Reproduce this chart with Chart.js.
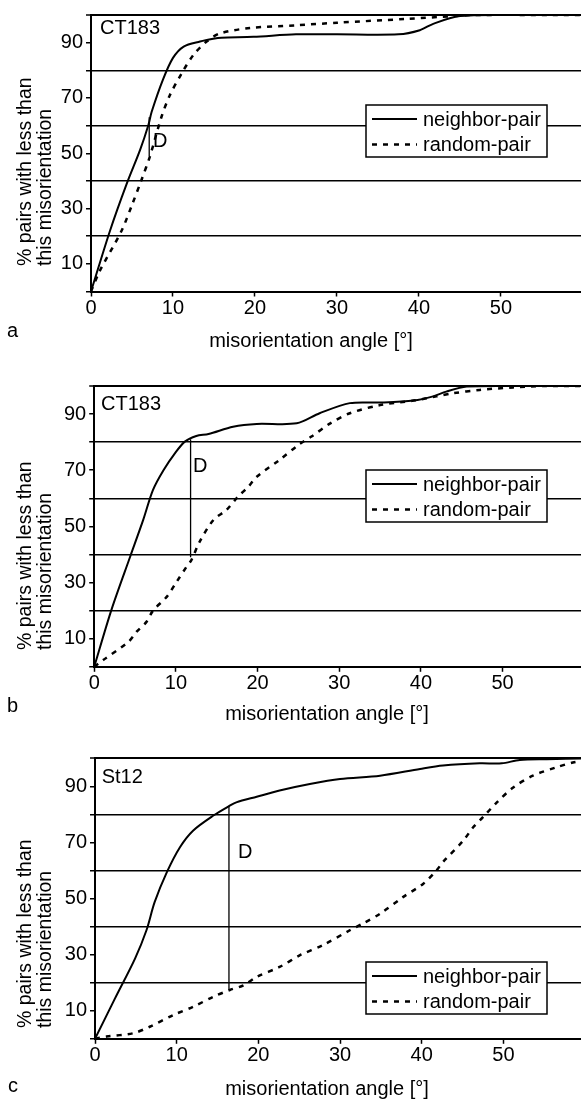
<!DOCTYPE html>
<html><head><meta charset="utf-8">
<script src="https://cdn.jsdelivr.net/npm/chart.js@4.4.1/dist/chart.umd.min.js"></script>
<style>
html,body{margin:0;padding:0;background:#fff;width:581px;height:1101px;overflow:hidden;}
canvas{position:absolute;left:0;}
</style></head><body>
<canvas id="ca"></canvas><canvas id="cb"></canvas><canvas id="cc"></canvas>
<script>
// ---------- data ----------
const SERIES_NAMES = ['neighbor-pair', 'random-pair'];
const X_TICKS = [0, 10, 20, 30, 40, 50];
const Y_TICK_LABELS = [10, 30, 50, 70, 90];
const Y_GRID_LINES = [20, 40, 60, 80, 100];
const X_TITLE = 'misorientation angle [°]';
const Y_TITLE = ['% pairs with less than', 'this misorientation'];
const PANEL_LETTERS = ['a', 'b', 'c'];
const PANEL_NAMES = ['CT183', 'CT183', 'St12'];

// panel a
const A_NEIGHBOR_X = [0, 2.3, 4.35, 6.0, 7.0, 7.4, 8.8, 10.0, 11.3, 13.3, 14.9, 15.9, 19.8, 25, 30, 37.5, 40.1, 41.8, 45, 50, 60];
const A_NEIGHBOR_Y = [0, 21.8, 38.9, 51.3, 60.2, 65, 76.8, 84.5, 88.6, 90.4, 91.4, 91.8, 92.1, 93, 93, 93, 94.5, 96.9, 99.6, 100, 100];
const A_RANDOM_X = [0, 1.1, 3.7, 5.0, 6.2, 7.2, 8.6, 9.6, 11.1, 12.5, 14.1, 15.7, 19.4, 25.1, 30, 38.5, 44.2, 46, 60];
const A_RANDOM_Y = [0, 7.6, 21.8, 31.3, 40.7, 49, 63.2, 70.9, 79.1, 85.6, 90.4, 93.3, 95.3, 96.3, 97.2, 98.6, 99.6, 100, 100];
const A_D_X = 7.1;
const A_D_Y = [49, 63];

// panel b
const B_NEIGHBOR_X = [0, 2.1, 4.4, 6.0, 7.2, 8.5, 9.9, 11.1, 12.5, 14.0, 17.0, 19.9, 24.8, 27.6, 31.3, 35, 39.1, 41.5, 43.1, 45.6, 50, 60];
const B_NEIGHBOR_Y = [0, 20.2, 39.2, 52.3, 63, 70.1, 76.1, 80.2, 82.2, 82.9, 85.5, 86.5, 86.7, 90.3, 93.9, 94.1, 94.8, 96.3, 98, 99.8, 100, 100];
const B_RANDOM_X = [0, 1.1, 4.2, 5.2, 6.4, 7.2, 8.9, 10.1, 11.3, 11.9, 12.9, 14.6, 16.2, 17.6, 18.9, 19.9, 22.7, 25, 26.6, 28.9, 31.3, 35, 39.1, 41.9, 43.9, 47.2, 51.3, 55, 60];
const B_RANDOM_Y = [0, 2.4, 8.9, 12.5, 16, 20, 25, 30.3, 35.6, 38, 44.5, 52.3, 55.9, 60.6, 64.2, 67.7, 73.7, 79, 82, 86.7, 90.3, 93.2, 94.8, 96.3, 97.4, 98.6, 99.5, 100, 100];
const B_D_X = 11.8;
const B_D_Y = [39, 81];

// panel c
const C_NEIGHBOR_X = [0, 2.45, 4.9, 6.3, 7.3, 8.8, 10.4, 12.0, 14.5, 16.5, 17.3, 19.8, 22.6, 26.3, 30, 34.9, 39.8, 42.6, 47.1, 49.8, 52, 55.3, 60];
const C_NEIGHBOR_Y = [0, 14.4, 28.6, 38.7, 48.7, 59.4, 68.3, 74.2, 79.6, 83.1, 84.3, 86.3, 88.5, 90.8, 92.6, 93.8, 96.2, 97.4, 98.2, 98.2, 99.4, 99.7, 100];
const C_RANDOM_X = [0, 1.4, 4.7, 6.7, 9.6, 12, 14.5, 16.5, 18.2, 19.8, 22.6, 25.1, 27.9, 31.2, 32.8, 34.9, 37.7, 40.2, 41.8, 42.6, 45.1, 46.3, 47.5, 49.2, 51.2, 53.6, 56.5, 58.5, 60];
const C_RANDOM_Y = [0, 0.8, 2, 4.3, 8.5, 11.4, 15, 17.4, 19.1, 22.1, 25.6, 29.8, 33.4, 38.7, 41.1, 44.6, 50.5, 55.3, 60, 63, 70.7, 75.4, 79, 84.3, 89.6, 93.8, 96.8, 98.5, 99.3];
const C_D_X = 16.4;
const C_D_Y = [17.6, 83.1];

// ---------- layout (page pixel coordinates) ----------
const FONT_FAMILY = '"Liberation Sans", Arial, Helvetica, sans-serif';
const FONT_SIZE = 20;
const Y_TITLE_SIZE = 19.5;
Chart.defaults.font.family = FONT_FAMILY;
Chart.defaults.font.size = FONT_SIZE;
Chart.defaults.color = '#000';

const PANELS = [
  { id: 'ca', top: 0, height: 352, plotLeft: 91, plotTop: 9.5, plotBottom: 291.5, xMax: 59.76,
    nx: A_NEIGHBOR_X, ny: A_NEIGHBOR_Y, rx: A_RANDOM_X, ry: A_RANDOM_Y, dx: A_D_X, dy: A_D_Y,
    letter: [7, 337], xTitle: [311, 347], name: [100, 33.5], dLabel: [153, 147], yTitleStart: 266,
    legend: { x: 366, y: 105, w: 181, h: 52 } },
  { id: 'cb', top: 352, height: 373, plotLeft: 94.2, plotTop: 386, plotBottom: 666.8, xMax: 59.6,
    nx: B_NEIGHBOR_X, ny: B_NEIGHBOR_Y, rx: B_RANDOM_X, ry: B_RANDOM_Y, dx: B_D_X, dy: B_D_Y,
    letter: [7, 712], xTitle: [327, 719.5], name: [101, 410], dLabel: [193, 471.5], yTitleStart: 650,
    legend: { x: 366, y: 470, w: 181, h: 52 } },
  { id: 'cc', top: 725, height: 376, plotLeft: 95, plotTop: 758.3, plotBottom: 1038.8, xMax: 59.5,
    nx: C_NEIGHBOR_X, ny: C_NEIGHBOR_Y, rx: C_RANDOM_X, ry: C_RANDOM_Y, dx: C_D_X, dy: C_D_Y,
    letter: [8, 1092], xTitle: [327, 1094.5], name: [101.7, 783], dLabel: [238, 858], yTitleStart: 1028,
    legend: { x: 366, y: 962, w: 181, h: 52 } }
];

function pts(xs, ys) { return xs.map((x, i) => ({ x: x, y: ys[i] })); }

const decor = {
  id: 'decor',
  afterDraw(chart, args, o) {
    const ctx = chart.ctx, t = o.top;
    ctx.save();
    ctx.fillStyle = '#000';
    ctx.font = FONT_SIZE + 'px ' + FONT_FAMILY;
    ctx.textBaseline = 'alphabetic';
    ctx.textAlign = 'left';
    ctx.fillText(o.letterText, o.letter[0], o.letter[1] - t);
    ctx.fillText(o.nameText, o.name[0], o.name[1] - t);
    ctx.fillText('D', o.dLabel[0], o.dLabel[1] - t);
    ctx.textAlign = 'center';
    ctx.fillText(X_TITLE, o.xTitle[0], o.xTitle[1] - t);
    // rotated y title
    ctx.save();
    ctx.font = Y_TITLE_SIZE + 'px ' + FONT_FAMILY;
    ctx.translate(0, o.yTitleStart - t);
    ctx.rotate(-Math.PI / 2);
    ctx.textAlign = 'left';
    ctx.fillText(Y_TITLE[0], 0, 30.5);
    ctx.fillText(Y_TITLE[1], 0, 50.5);
    ctx.restore();
    // legend box
    const L = o.legend, by = L.y - t;
    ctx.fillStyle = '#fff';
    ctx.fillRect(L.x, by, L.w, L.h);
    ctx.strokeStyle = '#000';
    ctx.lineWidth = 1.5;
    ctx.setLineDash([]);
    ctx.strokeRect(L.x, by, L.w, L.h);
    const rows = [14, 39.5];
    chart.data.datasets.filter(d => !d.hideInLegend).forEach((d, i) => {
      const yy = by + rows[i];
      ctx.beginPath();
      ctx.setLineDash(d.borderDash || []);
      ctx.lineWidth = d.borderWidth;
      ctx.strokeStyle = '#000';
      ctx.moveTo(L.x + 6, yy);
      ctx.lineTo(L.x + 51, yy);
      ctx.stroke();
      ctx.setLineDash([]);
      ctx.fillStyle = '#000';
      ctx.textAlign = 'left';
      ctx.textBaseline = 'middle';
      ctx.fillText(d.label, L.x + 57, yy + 1);
    });
    ctx.restore();
  }
};

PANELS.forEach((P, k) => {
  const cv = document.getElementById(P.id);
  cv.style.top = P.top + 'px';
  cv.width = 581; cv.height = P.height;
  cv.style.width = '581px'; cv.style.height = P.height + 'px';
  const font = { family: FONT_FAMILY, size: FONT_SIZE };
  new Chart(cv, {
    type: 'line',
    data: {
      datasets: [
        { label: SERIES_NAMES[0], data: pts(P.nx, P.ny), borderColor: '#000', borderWidth: 2,
          pointRadius: 0, tension: 0.3, fill: false },
        { label: SERIES_NAMES[1], data: pts(P.rx, P.ry), borderColor: '#000', borderWidth: 2.5,
          borderDash: [5, 6], pointRadius: 0, tension: 0.3, fill: false },
        { label: 'D', data: [{ x: P.dx, y: P.dy[0] }, { x: P.dx, y: P.dy[1] }], borderColor: '#000',
          borderWidth: 1.3, pointRadius: 0, fill: false, hideInLegend: true }
      ]
    },
    options: {
      responsive: false, animation: false, devicePixelRatio: 1,
      layout: { padding: { top: P.plotTop - P.top, left: 0, right: 0, bottom: 0 } },
      plugins: {
        legend: { display: false }, tooltip: { enabled: false },
        decor: { top: P.top, letter: P.letter, letterText: PANEL_LETTERS[k], name: P.name,
                 nameText: PANEL_NAMES[k], dLabel: P.dLabel, xTitle: P.xTitle,
                 yTitleStart: P.yTitleStart, legend: P.legend }
      },
      scales: {
        x: {
          type: 'linear', min: 0, max: P.xMax,
          afterBuildTicks: s => { s.ticks = X_TICKS.map(v => ({ value: v })); },
          afterFit: s => { s.height = P.top + P.height - P.plotBottom; },
          grid: { drawOnChartArea: false, drawTicks: true, tickLength: 5, tickColor: '#000', tickWidth: 1.5 },
          border: { display: true, color: '#000', width: 2 },
          ticks: { font: font, color: '#000', padding: 0, maxRotation: 0, autoSkip: false }
        },
        y: {
          type: 'linear', min: 0, max: 100,
          afterFit: s => { s.width = P.plotLeft; },
          ticks: { stepSize: 10, autoSkip: false, font: font, color: '#000', padding: 3,
                   callback: v => Y_TICK_LABELS.includes(v) ? String(v) : '' },
          grid: {
            color: c => (c.tick && Y_GRID_LINES.includes(c.tick.value)) ? '#000' : 'rgba(0,0,0,0)',
            lineWidth: c => (c.tick && c.tick.value === 100) ? 2 : 1.5,
            tickColor: '#000', tickLength: 5, tickWidth: 1.5
          },
          border: { display: true, color: '#000', width: 2 }
        }
      }
    },
    plugins: [decor]
  });
});
</script>
</body></html>
